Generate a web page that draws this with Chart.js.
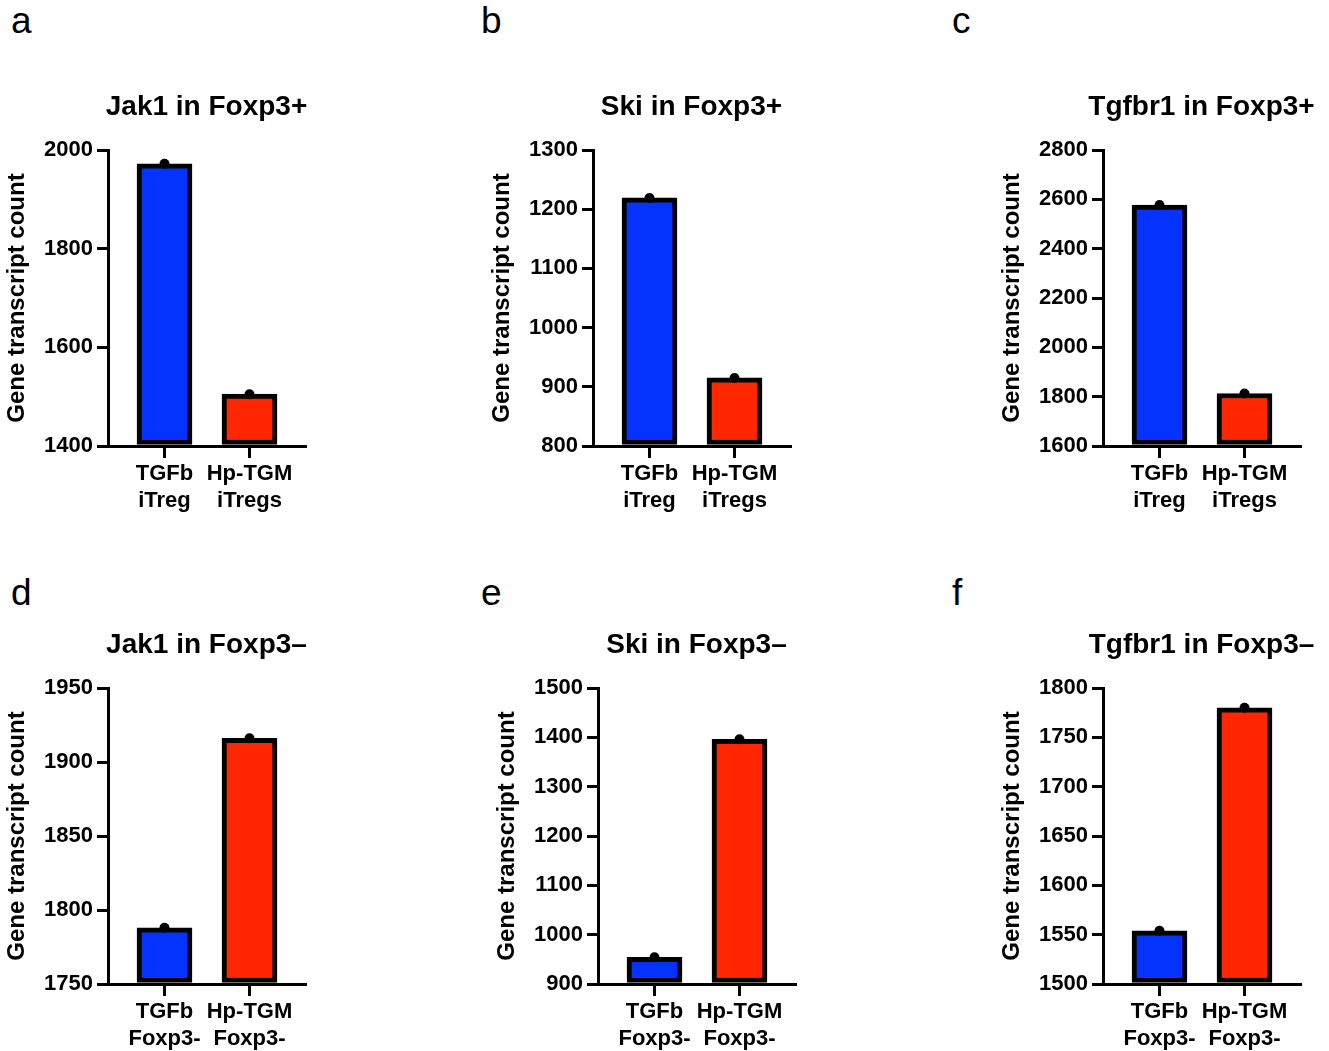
<!DOCTYPE html>
<html><head><meta charset="utf-8">
<script src="https://cdn.jsdelivr.net/npm/chart.js@4.4.0/dist/chart.umd.min.js"></script>
<style>
html,body{margin:0;padding:0;background:#fff}
body{width:1329px;height:1051px;position:relative;overflow:hidden;font-family:"Liberation Sans",Arial,sans-serif}
.letter{position:absolute;font-size:37px;line-height:37px;color:#000;font-family:"Liberation Sans",Arial,sans-serif}
canvas.pn{position:absolute}
</style></head><body>
<script>
// ---- data ----
const panelLetters = ['a', 'b', 'c', 'd', 'e', 'f'];
const titles = ['Jak1 in Foxp3+', 'Ski in Foxp3+', 'Tgfbr1 in Foxp3+', 'Jak1 in Foxp3–', 'Ski in Foxp3–', 'Tgfbr1 in Foxp3–'];
const groupsPos = [['TGFb', 'iTreg'], ['Hp-TGM', 'iTregs']];
const groupsNeg = [['TGFb', 'Foxp3-'], ['Hp-TGM', 'Foxp3-']];
const jak1Pos = [1972, 1505];
const skiPos = [1219, 915];
const tgfbr1Pos = [2577, 1813];
const jak1Neg = [1788, 1916];
const skiNeg = [954, 1396];
const tgfbr1Neg = [1554, 1780];
const yMin = [1400, 800, 1600, 1750, 900, 1500];
const yMax = [2000, 1300, 2800, 1950, 1500, 1800];
const yStep = [200, 100, 200, 50, 100, 50];
const yAxisTitle = 'Gene transcript count';
const barColors = ['#0433FF', '#FF2600'];

// ---- layout ----
const panelValues = [jak1Pos, skiPos, tgfbr1Pos, jak1Neg, skiNeg, tgfbr1Neg];
const panelCats = [groupsPos, groupsPos, groupsPos, groupsNeg, groupsNeg, groupsNeg];
const plotLeft = [108, 593, 1103, 108, 598, 1103];
const plotTop = [150, 150, 150, 688, 688, 688];
const letterPos = [[11, 2], [481, 2], [952, 2], [11, 574], [481, 574], [952, 574]];
const PLOT_W = 197, PLOT_H = 296, YW = 108, PT = 110, PR = 25, XH = 66;
const FONT = '"Liberation Sans", Arial, sans-serif';

const titlePlugin = {
  id: 'panelTitle',
  afterDraw(chart, args, opts) {
    const {ctx, chartArea} = chart;
    ctx.save();
    ctx.font = 'bold 28px ' + FONT;
    ctx.fillStyle = '#000';
    ctx.textAlign = 'center';
    ctx.textBaseline = 'alphabetic';
    ctx.fillText(opts.text, (chartArea.left + chartArea.right) / 2, chartArea.top - 35);
    ctx.restore();
  }
};

panelLetters.forEach((l, i) => {
  const d = document.createElement('div');
  d.className = 'letter';
  d.textContent = l;
  d.style.left = letterPos[i][0] + 'px';
  d.style.top = letterPos[i][1] + 'px';
  document.body.appendChild(d);
});

for (let i = 0; i < 6; i++) {
  const cv = document.createElement('canvas');
  cv.className = 'pn';
  const W = YW + PLOT_W + PR, H = PT + PLOT_H + XH;
  cv.width = W; cv.height = H;
  cv.style.width = W + 'px'; cv.style.height = H + 'px';
  cv.style.left = (plotLeft[i] - YW) + 'px';
  cv.style.top = (plotTop[i] - PT) + 'px';
  document.body.appendChild(cv);
  const vals = panelValues[i];
  const cats = panelCats[i];
  const pts = vals.map((v, k) => ({x: k, y: v}));
  new Chart(cv.getContext('2d'), {
    data: {
      datasets: [
        {type: 'scatter', data: pts, pointRadius: 5, pointHoverRadius: 5,
         pointBackgroundColor: '#000', pointBorderWidth: 0, order: 0},
        {type: 'bar', data: pts, backgroundColor: barColors, borderColor: '#000',
         borderWidth: 5, borderSkipped: false, barThickness: 55, base: yMin[i], order: 1}
      ]
    },
    options: {
      responsive: false, animation: false, devicePixelRatio: 1,
      layout: {padding: {top: PT, right: PR, left: 0, bottom: 0}},
      plugins: {legend: {display: false}, tooltip: {enabled: false}, title: {display: false},
                panelTitle: {text: titles[i]}},
      scales: {
        x: {
          type: 'linear', min: -0.6647, max: 1.653, offset: false,
          afterBuildTicks: s => { s.ticks = [{value: 0}, {value: 1}]; },
          afterFit: s => { s.height = XH; },
          ticks: {callback: v => cats[v], color: '#000', font: {family: FONT, size: 22, weight: 'bold'},
                  padding: 3, autoSkip: false, maxRotation: 0, minRotation: 0},
          grid: {offset: false, drawOnChartArea: false, drawTicks: true, tickLength: 12, tickWidth: 3,
                 tickColor: '#000', color: '#000', lineWidth: 3},
          border: {display: true, width: 3, color: '#000'}
        },
        y: {
          min: yMin[i], max: yMax[i],
          afterFit: s => { s.width = YW; },
          ticks: {stepSize: yStep[i], callback: v => String(v), color: '#000',
                  font: {family: FONT, size: 22, weight: 'bold'}, padding: 4},
          grid: {drawOnChartArea: false, drawTicks: true, tickLength: 11, tickWidth: 3,
                 tickColor: '#000', color: '#000', lineWidth: 3},
          border: {display: true, width: 3, color: '#000'},
          title: {display: true, text: yAxisTitle, color: '#000',
                  font: {family: FONT, size: 24, weight: 'bold'}, padding: {top: 3, bottom: 0}}
        }
      }
    },
    plugins: [titlePlugin]
  });
}
</script>
</body></html>
